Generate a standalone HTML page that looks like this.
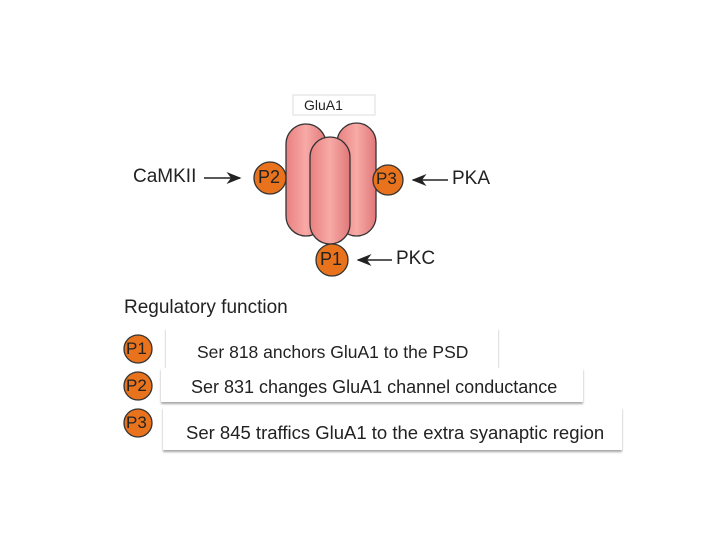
<!DOCTYPE html>
<html><head><style>
body{margin:0;width:720px;height:540px;background:#fff;position:relative;overflow:hidden;font-family:"Liberation Sans",sans-serif}
.t{position:absolute;white-space:nowrap;color:#222}
.box{position:absolute;background:#fff;box-shadow:0 2px 2px rgba(0,0,0,0.35)}
</style></head><body>
<svg width="720" height="540" style="position:absolute;left:0;top:0">
<defs>
<linearGradient id="g" x1="0" x2="1"><stop offset="0" stop-color="#e98080"/><stop offset="0.5" stop-color="#f7aaa6"/><stop offset="1" stop-color="#e07878"/></linearGradient>
<marker id="a" markerWidth="10" markerHeight="8" refX="9" refY="4" orient="auto"><path d="M0,0 L10,4 L0,8 L3,4z" fill="#222"/></marker>
</defs>
<rect x="293" y="95" width="82" height="20" fill="#fff" stroke="#ddd"/>
<rect x="286" y="124" width="40" height="112" rx="20" fill="url(#g)" stroke="#333" stroke-width="1.3"/>
<rect x="337" y="123" width="39" height="113" rx="19.5" fill="url(#g)" stroke="#333" stroke-width="1.3"/>
<rect x="310" y="137" width="40" height="107" rx="20" fill="url(#g)" stroke="#333" stroke-width="1.3"/>
<g fill="#e8731c" stroke="#333" stroke-width="1.3">
<circle cx="270" cy="178" r="16"/><circle cx="388" cy="180" r="15"/><circle cx="332" cy="260" r="16"/>
<circle cx="138" cy="349" r="14"/><circle cx="138" cy="386" r="14"/><circle cx="138" cy="423" r="14"/>
</g>
<g stroke="#222" stroke-width="1.5" marker-end="url(#a)">
<line x1="204" y1="178" x2="240" y2="178"/><line x1="448" y1="180" x2="413" y2="180"/><line x1="392" y1="260" x2="358" y2="260"/>
</g>
</svg>
<div class="t" style="left:304px;top:97px;font-size:14px">GluA1</div>
<div class="t" style="left:133px;top:166px;font-size:19px">CaMKII</div>
<div class="t" style="left:452px;top:168px;font-size:19px">PKA</div>
<div class="t" style="left:396px;top:248px;font-size:19px">PKC</div>
<div class="t" style="left:258px;top:167px;font-size:18px">P2</div>
<div class="t" style="left:376px;top:169px;font-size:17px">P3</div>
<div class="t" style="left:320px;top:249px;font-size:18px">P1</div>
<div class="t" style="left:124px;top:297px;font-size:19px">Regulatory function</div>
<div class="t" style="left:126px;top:339px;font-size:17px">P1</div>
<div class="t" style="left:126px;top:376px;font-size:17px">P2</div>
<div class="t" style="left:126px;top:413px;font-size:17px">P3</div>
<div class="box" style="left:166px;top:328px;width:332px;height:40px"></div>
<div class="box" style="left:161px;top:368px;width:422px;height:34px"></div>
<div class="box" style="left:163px;top:407px;width:459px;height:43px"></div>
<div class="t" style="left:197px;top:342px;font-size:17.5px">Ser 818 anchors GluA1 to the PSD</div>
<div class="t" style="left:191px;top:377px;font-size:18px">Ser 831 changes GluA1 channel conductance</div>
<div class="t" style="left:186px;top:422px;font-size:18.5px">Ser 845 traffics GluA1 to the extra syanaptic region</div>
</body></html>
